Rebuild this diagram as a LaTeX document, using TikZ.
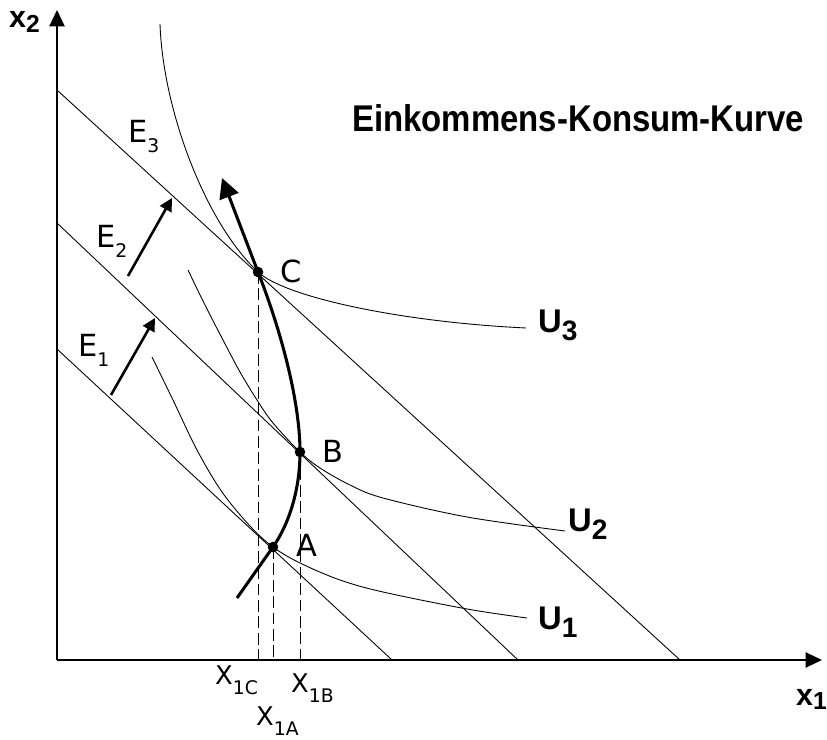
\documentclass[tikz,border=0pt]{standalone}
\usepackage{graphicx}
\usepackage{fontspec}
\setmainfont{DejaVu Sans}
\newfontfamily\arialfont{Liberation Sans}
\usetikzlibrary{arrows.meta}
\newcommand{\fsz}[1]{\fontsize{#1}{#1}\selectfont}
\newcommand{\reglab}[2]{\fsz{22}#1\raisebox{-8pt}{\fsz{16}#2}}
\newcommand{\elab}[1]{\fsz{26}E\raisebox{-8.5pt}{\fsz{16}#1}}
\newcommand{\ulab}[1]{\arialfont\bfseries\fsz{28}U\raisebox{-6pt}{\fsz{24}#1}}
\begin{document}
\begin{tikzpicture}[x=0.03cm,y=-0.03cm,
  thinline/.style={line width=0.75pt},
  axisline/.style={line width=1.5pt,-{Triangle[length=14pt,width=13pt]}},
  iccline/.style={line width=2.6pt,-{Triangle[length=17pt,width=17pt]}},
  shiftarrow/.style={line width=2.2pt,-{Triangle[length=11pt,width=11pt]}},
  dashline/.style={line width=0.8pt,dash pattern=on 10pt off 4pt},
  lbl/.style={inner sep=0pt,anchor=base west},
  dot/.style={fill=black}]
\useasboundingbox (0,0) rectangle (827,740);
\fill[white] (0,0) rectangle (827,740);

% axes
\coordinate (O) at (57,660);
\coordinate (ytop) at (57,10);
\coordinate (xend) at (822,660);
\draw[axisline] (O) -- (ytop);
\draw[axisline] (O) -- (xend);

% budget lines
\coordinate (e1a) at (57,349);  \coordinate (e1b) at (392,660);
\coordinate (e2a) at (57,223);  \coordinate (e2b) at (518,660);
\coordinate (e3a) at (57,90);   \coordinate (e3b) at (680,660);
\draw[thinline] (e1a) -- (e1b);
\draw[thinline] (e2a) -- (e2b);
\draw[thinline] (e3a) -- (e3b);

% points
\coordinate (A) at (273,547);
\coordinate (B) at (300,452);
\coordinate (C) at (258,272);

% indifference curves
\coordinate (u3s) at (160,24);
\coordinate (u3e) at (526,328);
\draw[thinline] (u3s) .. controls (163,110) and (205,222) .. (C)
  .. controls (285,297) and (400,322) .. (u3e);
\draw[thinline] plot[smooth,tension=0.55] coordinates {(188,270) (205,305) (223,340) (240,372) (257,400) (273,423) (300,452) (320,468) (350,485) (383,498) (467,517) (565,531)};
\draw[thinline] plot[smooth,tension=0.55] coordinates {(152,357) (173,400) (197,450) (222,492) (250,526) (273,547) (300,563) (340,580) (383,592) (467,609) (527,618)};

% dashed projections
\draw[dashline] (C) -- (C |- O);
\draw[dashline] (A) -- (A |- O);
\draw[dashline] (B) -- (B |- O);

% income-consumption curve
\coordinate (iccs) at (237,598);
\coordinate (icce) at (222,178);
\draw[iccline] (iccs) -- (A) .. controls (289,524) and (300,490) .. (B)
  .. controls (300,400) and (280,328) .. (C) -- (icce);

\fill[dot] (A) circle[radius=4.5pt];
\fill[dot] (B) circle[radius=4.5pt];
\fill[dot] (C) circle[radius=4.5pt];

% shift arrows
\coordinate (s1a) at (111,395); \coordinate (s1b) at (155,318);
\coordinate (s2a) at (128,276); \coordinate (s2b) at (172,198);
\draw[shiftarrow] (s1a) -- (s1b);
\draw[shiftarrow] (s2a) -- (s2b);

% labels
\node[lbl] (labA) at (296,557) {\fsz{26}A};
\node[lbl] (labB) at (322,463) {\fsz{26}B};
\node[lbl] (labC) at (280,283) {\fsz{26}C};
\node[lbl] (labE1) at (78,357) {\elab{1}};
\node[lbl] (labE2) at (96,248) {\elab{2}};
\node[lbl] (labE3) at (128,143) {\elab{3}};
\node[lbl] (labX1C) at (215,685) {\reglab{X}{1C}};
\node[lbl] (labX1B) at (291,693) {\reglab{X}{1B}};
\node[lbl] (labX1A) at (256,726) {\reglab{X}{1A}};
\node[lbl] (labU3) at (538,333) {\ulab{3}};
\node[lbl] (labU2) at (568,532) {\ulab{2}};
\node[lbl] (labU1) at (538,630) {\ulab{1}};
\node[lbl] (labx2) at (9,28) {\arialfont\bfseries\fsz{26}x\raisebox{-4pt}{\fsz{21}2}};
\node[lbl] (labx1) at (796,705) {\arialfont\bfseries\fsz{26}x\raisebox{-4pt}{\fsz{21}1}};
\node[lbl] (title) at (352,132) {\resizebox{385.8pt}{23pt}{\arialfont\bfseries Einkommens-Konsum-Kurve}};
\end{tikzpicture}
\end{document}
